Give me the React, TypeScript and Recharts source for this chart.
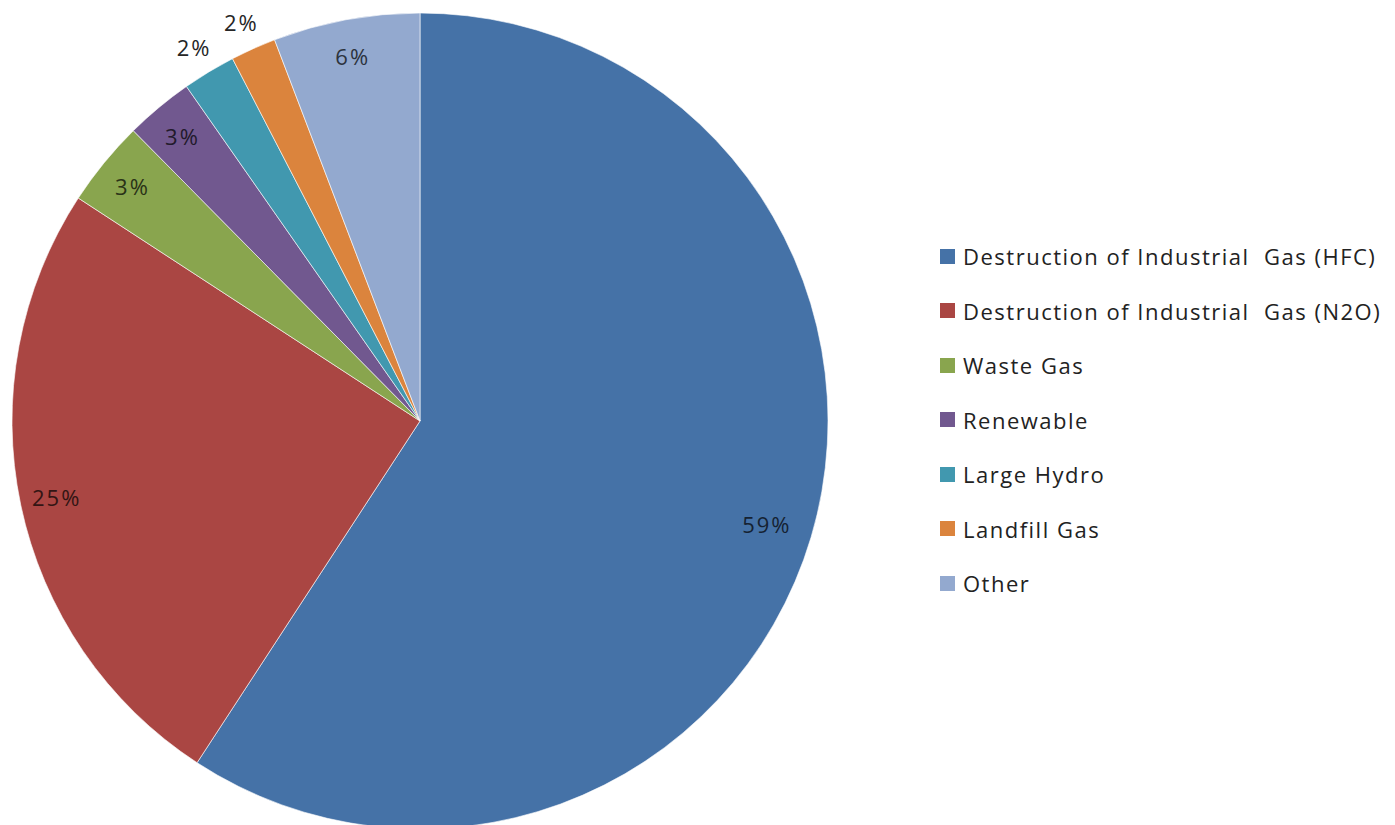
import { Cell, Legend, Pie, PieChart } from "recharts";

const categories = [
  "Destruction of Industrial  Gas (HFC)",
  "Destruction of Industrial  Gas (N2O)",
  "Waste Gas",
  "Renewable",
  "Large Hydro",
  "Landfill Gas",
  "Other",
];
const shares = [59.2, 25.0, 3.4, 2.7, 2.1, 1.8, 5.8];
const colors = ["#4572A7", "#AA4643", "#89A54E", "#71588F", "#4198AF", "#DB843D", "#93A9CF"];
// slices whose label sits outside the pie
const outsideLabels = ["Large Hydro", "Landfill Gas"];

const data = categories.map((name, i) => ({ name, value: shares[i] }));

const FONT = "'Open Sans', 'DejaVu Sans', sans-serif";
const RAD = Math.PI / 180;

// labels inside a slice are drawn in a very dark shade of the slice colour
function darken(hex: string, k: number) {
  const n = parseInt(hex.slice(1), 16);
  const ch = [(n >> 16) & 255, (n >> 8) & 255, n & 255].map((c) => Math.round(c * k));
  return `rgb(${ch.join(",")})`;
}

function renderLabel(props: any) {
  const { cx, cy, midAngle, outerRadius, percent, name, index } = props;
  const outside = outsideLabels.includes(name);
  const r = outside ? outerRadius + 29 : outerRadius * (index === 0 ? 0.887 : 0.91);
  const x = cx + r * Math.cos(-midAngle * RAD);
  const y = cy + r * Math.sin(-midAngle * RAD);
  return (
    <text
      x={x}
      y={y}
      textAnchor="middle"
      dominantBaseline="central"
      fill={outside ? "#262626" : darken(colors[index], 0.3)}
      fontSize={22}
      letterSpacing={2}
      fontFamily={FONT}
    >
      {`${Math.round(percent * 100)}%`}
    </text>
  );
}

function LegendList() {
  return (
    <div style={{ fontFamily: FONT, fontSize: 22, letterSpacing: 1.5, color: "#222" }}>
      {categories.map((name, i) => (
        <div
          key={name}
          style={{ display: "flex", alignItems: "center", height: 54.5, whiteSpace: "pre" }}
        >
          <span
            style={{
              display: "inline-block",
              width: 15,
              height: 15,
              background: colors[i],
              marginRight: 8,
            }}
          />
          {name}
        </div>
      ))}
    </div>
  );
}

export default function App() {
  return (
    <div style={{ position: "absolute", left: 0, top: 0, width: 1395, height: 825, background: "#fff" }}>
      <PieChart width={1395} height={825} margin={{ top: 0, right: 0, bottom: 0, left: 0 }}>
        <Pie
          data={data}
          dataKey="value"
          nameKey="name"
          cx={420}
          cy={421}
          outerRadius={408}
          startAngle={90}
          endAngle={-270}
          stroke="#ffffff"
          strokeWidth={0.6}
          label={renderLabel}
          labelLine={false}
          isAnimationActive={false}
        >
          {data.map((d, i) => (
            <Cell key={d.name} fill={colors[i]} />
          ))}
        </Pie>
        <Legend
          content={() => <LegendList />}
          wrapperStyle={{ left: 940, top: 229, width: 455 }}
        />
      </PieChart>
    </div>
  );
}
